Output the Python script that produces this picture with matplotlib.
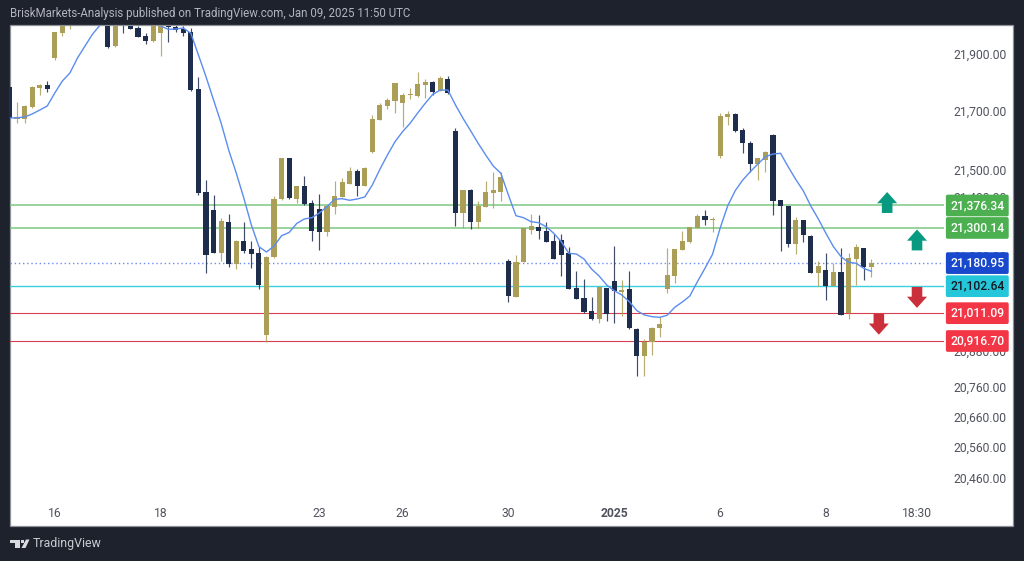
import matplotlib
matplotlib.use("Agg")
import matplotlib.pyplot as plt
from matplotlib.patches import Rectangle, Polygon, FancyArrow
from matplotlib.transforms import blended_transform_factory, ScaledTranslation

plt.rcParams["font.family"] = ["Roboto", "DejaVu Sans"]

# ข้อมูลแท่งเทียน (candles 9-12 and a few others sit above the visible panel, so they are estimated)
opens = [21778, 21670, 21670, 21710.5, 21775, 21784, 21876.7, 21962.5, 21998.8, 22040,
         22080, 22110, 22100, 22060, 21917.4, 22040, 22010, 21978.4, 21952.3, 21935.3,
         21962.5, 21999, 21980.8, 21974, 21963.8, 21770.5, 21422, 21360, 21216.2, 21320.4,
         21176.9, 21255.9, 21228.8, 21215.2, 20937, 21200.6, 21397.4, 21537.5, 21399.4, 21442.5,
         21385.8, 21363.4, 21285.4, 21371.3, 21406.2, 21449.3, 21492.3, 21442.5, 21557.8, 21666.4,
         21714.9, 21731.8, 21725, 21750, 21747.8, 21784, 21794.2, 21765.7, 21804.4, 21629,
         21351.9, 21428.9, 21321.4, 21371.3, 21418.7, 21422.1, 21188, 21066, 21184.7, 21293.2,
         21303.4, 21290.9, 21254.9, 21258.3, 21215.2, 21096.5, 21061.6, 21018.5, 20992.4, 21096.5,
         21119.2, 21081.3, 21093, 20958.4, 20864.8, 20912, 20960.8, 21094.1, 21138.2, 21226.4,
         21251.5, 21301, 21340.7, 21328, 21545.3, 21677.5, 21687.7, 21632.4, 21589.3, 21518.1,
         21530.7, 21616.5, 21394, 21373.6, 21246.8, 21326.1, 21273.9, 21147.4, 21156.5, 21104.3,
         21149.8, 21010.7, 21195.9, 21231.2, 21167.7]
closes = [21673, 21676, 21714, 21778.3, 21784, 21771.5, 21963.8, 22005.6, 22039, 22080,
          22110, 22100, 22060, 21914, 22040, 22000, 21976, 21948.9, 21935.3, 22000,
          22000, 21983.5, 21971.6, 21962.5, 21768.1, 21417.7, 21207.4, 21216.2, 21323.8, 21178,
          21255.9, 21223, 21212.9, 21106.7, 21201.7, 21398.4, 21537.5, 21400.8, 21442.5, 21380.4,
          21288.8, 21285.4, 21374.6, 21408.6, 21456, 21492.3, 21442.5, 21502.5, 21669.7, 21718.3,
          21734.2, 21790.8, 21751.2, 21752, 21787.4, 21794.2, 21761.3, 21807.8, 21758, 21351.9,
          21428.9, 21321.4, 21374.6, 21422.1, 21428.9, 21473, 21069.4, 21184.7, 21299, 21306.8,
          21288.8, 21252.5, 21195.9, 21208.4, 21094.1, 21059.2, 21015.1, 20992.4, 21100.9, 21009.3,
          21087.3, 21089.1, 20959.8, 20864.8, 20914.4, 20960.8, 20974.4, 21139.6, 21228.8, 21254.9,
          21303.4, 21340.7, 21328.2, 21330, 21678.9, 21687.7, 21630, 21588.3, 21518.1, 21536.4,
          21557.8, 21391.6, 21374.6, 21245.8, 21327.2, 21276.3, 21147.4, 21172.2, 21104.3, 21149.8,
          21005.9, 21197.2, 21235.6, 21167.7, 21181]
highs = [21780, 21728.4, 21716, 21780, 21787.4, 21797.6, 21966, 22010, 22045, 22090,
         22120, 22120, 22110, 22070, 22050, 22050, 22020, 21985, 21961.5, 22010,
         22010, 22010, 21990, 21985, 21978.4, 21813.2, 21461.8, 21412, 21332.9, 21346.5,
         21258, 21320.4, 21255.9, 21236.6, 21204, 21408.6, 21539, 21539, 21444, 21475.4,
         21395, 21415.4, 21376, 21459.4, 21469.6, 21507.9, 21500.2, 21507.9, 21683.3, 21725,
         21741, 21792, 21758, 21775.9, 21829.2, 21804.4, 21797.6, 21815.6, 21814.6, 21639.2,
         21430, 21432, 21390.6, 21460.5, 21488.9, 21491, 21194.9, 21208.4, 21300, 21347.5,
         21344.1, 21320.4, 21279.7, 21279.7, 21234.5, 21154.2, 21127, 21065, 21102, 21098,
         21239, 21123.6, 21153.2, 20960, 20923.5, 20963, 20997, 21232.2, 21230, 21288.8,
         21305, 21346.5, 21360, 21336.3, 21689.1, 21697.9, 21690, 21639.2, 21594.1, 21538,
         21562.2, 21618, 21396, 21375, 21336.3, 21327, 21275, 21189, 21215.2, 21182.3,
         21231.2, 21214.2, 21244.7, 21233, 21195.9]
lows = [21666, 21656, 21657, 21707, 21752, 21762.3, 21870, 21952.3, 21975, 22030,
        22070, 22090, 22050, 21910.6, 21915, 21962.5, 21974, 21947, 21924.2, 21931,
        21884.5, 21932, 21964.9, 21951.3, 21766, 21413, 21148.4, 21214, 21187, 21166.7,
        21160, 21216, 21163.3, 21094, 20914, 21199, 21396, 21399, 21383.8, 21379,
        21255.9, 21225.4, 21272.9, 21347.5, 21405, 21448, 21409.6, 21441, 21556, 21665,
        21702.7, 21689.1, 21643.6, 21736.6, 21746, 21741, 21751.2, 21764, 21756, 21307.8,
        21300, 21295.6, 21300, 21370, 21367.9, 21390.6, 21049, 21065, 21183, 21278.7,
        21262.7, 21251, 21193.8, 21137.2, 21092, 21058, 21011.7, 20988, 20978.8, 20985.6,
        20978.8, 21000, 20958, 20799, 20799, 20870, 20930, 21078.5, 21114.5, 21225,
        21250, 21300, 21310.2, 21287.4, 21537.5, 21650.4, 21625, 21555.4, 21489.9, 21462.8,
        21488.9, 21345.1, 21223, 21236.6, 21212.9, 21252.5, 21146, 21104.3, 21055.8, 21103,
        21004, 20992.4, 21106.7, 21123.6, 21133.8]
ma_values = [21673, 21674, 21676.5, 21686.7, 21700, 21713.8, 21758, 21798.6, 21825.8, 21876.7,
             21917.4, 21958, 21988.6, 22040, 22060, 22070, 22060, 22040, 22020, 22000,
             21985.2, 21974, 21975, 21978.4, 21960.4, 21886.8, 21813.2, 21734.2, 21656, 21564.6,
             21486.6, 21402, 21310.2, 21236.6, 21218.6, 21239, 21273.9, 21285, 21315.3, 21330.6,
             21335, 21350.9, 21372.3, 21397.4, 21399.4, 21394, 21398.4, 21405.2, 21445.9, 21499.1,
             21547.6, 21592.7, 21626.7, 21655.2, 21690, 21723, 21753.5, 21768, 21768, 21717.2,
             21672, 21630, 21587.3, 21547.6, 21510.3, 21485.6, 21412, 21341.7, 21335, 21321.4,
             21318, 21304.4, 21282, 21253.5, 21214.2, 21211.8, 21194.9, 21160.9, 21137.2, 21106.7,
             21087.3, 21072.8, 21050, 21019.5, 21005, 20999.2, 20997, 21003.9, 21031, 21049,
             21069.4, 21117.9, 21163.3, 21210.8, 21299, 21374.6, 21426.5, 21462.8, 21491, 21517.1,
             21541.9, 21551, 21553.4, 21508, 21465.2, 21426.5, 21374.6, 21330.6, 21282, 21236.6,
             21202.7, 21183.7, 21180.3, 21163.3, 21153]

# ระดับราคาแนวนอน
level_prices = [21376.34, 21300.14, 21102.64, 21011.09, 20916.70]
level_labels = ["21,376.34", "21,300.14", "21,102.64", "21,011.09", "20,916.70"]
level_colors = ["#7fc783", "#7fc783", "#3ccfe0", "#d9404f", "#d9404f"]
level_widths = [1.1, 1.1, 1.0, 0.8, 0.8]
tag_colors = ["#4caf50", "#4caf50", "#26c6da", "#f23645", "#f23645"]
tag_text_colors = ["white", "white", "#131722", "white", "white"]
last_price = 21180.95
last_label = "21,180.95"

y_ticks = [21900, 21700, 21500, 21400, 21200, 20880, 20760, 20660, 20560, 20460]
y_labels = ["21,900.00", "21,700.00", "21,500.00", "21,400.00", "21,200.00",
            "20,880.00", "20,760.00", "20,660.00", "20,560.00", "20,460.00"]
x_ticks = [6, 20, 41, 52, 66, 80, 94, 108, 120]
x_labels = ["16", "18", "23", "26", "30", "2025", "6", "8", "18:30"]

up_arrows = [(116.1, 21351), (120.05, 21224)]
down_arrows = [(120.05, 21100), (115.0, 21009)]

DARK = "#1e222d"
GOLD = "#ab9f57"
NAVY = "#1f2d4d"
W, H = 1024, 561

fig = plt.figure(figsize=(W / 100, H / 100), dpi=100, facecolor=DARK)

def fx(x):
    return x / W

def fy(y):
    return 1 - y / H

# พื้นหลังสีขาวของกราฟ
fig.patches.append(Rectangle((fx(10), fy(526)), (1013 - 10) / W, (526 - 25) / H, transform=fig.transFigure,
                             facecolor="white", edgecolor="#8d9097", linewidth=0.9, zorder=-1))

ax = fig.add_axes([fx(10), fy(526), (944 - 10) / W, (526 - 26) / H])
ax.patch.set_alpha(0)
for s in ax.spines.values():
    s.set_visible(False)
ax.set_xlim(0.074, 123.62)
ax.set_ylim(20289.2, 21985.2)

# แท่งเทียน
xs = list(range(len(opens)))
colors = [GOLD if c >= o else NAVY for o, c in zip(opens, closes)]
ax.vlines(xs, lows, highs, colors=colors, linewidth=0.85, alpha=0.85, zorder=3)
bottoms = [min(o, c) for o, c in zip(opens, closes)]
sizes = [max(abs(c - o), 3) for o, c in zip(opens, closes)]
ax.bar(xs, sizes, bottom=bottoms, width=0.68, color=colors, linewidth=0, zorder=3)

ax.plot(xs, ma_values, color="#5b8def", linewidth=1.0, zorder=4)

# เส้นระดับราคา
for p, c, lw in zip(level_prices, level_colors, level_widths):
    ax.axhline(p, color=c, linewidth=lw, zorder=2)
ax.axhline(last_price, color="#6f8cf0", linewidth=1.0, linestyle=(0, (1, 2)), zorder=2)

# ลูกศร
for x, y in up_arrows:
    ax.add_patch(FancyArrow(x, y, 0, 71, width=1.4, head_width=2.65, head_length=38,
                            length_includes_head=True, color="#089981", linewidth=0, zorder=5))
for x, y in down_arrows:
    ax.add_patch(FancyArrow(x, y, 0, -71, width=1.4, head_width=2.65, head_length=38,
                            length_includes_head=True, color="#cc2f3c", linewidth=0, zorder=5))

ax.yaxis.tick_right()
ax.set_yticks(y_ticks)
ax.set_yticklabels(y_labels)
ax.tick_params(axis="y", length=0, pad=6.5, labelsize=8.7, labelcolor="#50535e")
ax.set_xticks(x_ticks)
ax.set_xticklabels(x_labels)
ax.tick_params(axis="x", length=0, pad=-13.5, labelsize=8.7, labelcolor="#50535e")
ax.get_xticklabels()[5].set_fontweight("bold")

# the published labels don't sit exactly on their prices, nudge them (pixels, + is up)
label_nudge = [-3, -1, -1, 1.5, 1.5, 1, 0, -0.5, -1, -2.5]
for lab, dy in zip(ax.get_yticklabels(), label_nudge):
    lab.set_transform(lab.get_transform() + ScaledTranslation(0, dy / 100, fig.dpi_scale_trans))

# ป้ายราคาด้านขวา
tag_trans = blended_transform_factory(fig.transFigure, ax.transData)
def price_tag(price, label, face, text_color):
    ax.text(fx(977.3), price, label, transform=tag_trans, ha="center", va="center", fontsize=8.7,
            color=text_color, zorder=10, clip_on=False, fontweight="medium",
            bbox=dict(boxstyle="round,pad=0.36,rounding_size=0.15", facecolor=face, edgecolor="none"))

for p, lab, f, t in zip(level_prices, level_labels, tag_colors, tag_text_colors):
    price_tag(p, lab, f, t)
price_tag(last_price, last_label, "#1848cc", "white")

# ข้อความหัวและโลโก้
fig.text(fx(10), fy(14), "BriskMarkets-Analysis published on TradingView.com, Jan 09, 2025 11:50 UTC",
         color="#b2b5be", fontsize=8.3, va="center", ha="left")
fig.text(fx(33), fy(544), "TradingView", color="#c8cad0", fontsize=8.9, va="center", ha="left")
logo = [[(10, 539.5), (20, 539.5), (20, 548), (15, 548), (15, 543), (10, 543)],
        [(26, 539.5), (29.5, 539.5), (25.5, 548), (21.5, 548)]]
for pts in logo:
    fig.patches.append(Polygon([(fx(a), fy(b)) for a, b in pts], closed=True,
                               transform=fig.transFigure, facecolor="#d8dae0", edgecolor="none"))
fig.patches.append(Polygon([(fx(21), fy(540)), (fx(24), fy(540)), (fx(24), fy(543)), (fx(21), fy(543))],
                           closed=True, transform=fig.transFigure, facecolor="#d8dae0", edgecolor="none"))

fig.savefig("out.png", dpi=100, facecolor=DARK)
